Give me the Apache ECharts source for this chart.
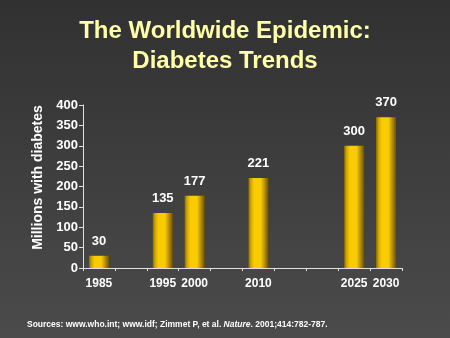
<!DOCTYPE html>
<html><head><meta charset="utf-8">
<script src="https://cdn.jsdelivr.net/npm/echarts@6/dist/echarts.min.js"></script>
<style>html,body{margin:0;padding:0;background:#3d3d3d}#c{width:450px;height:338px}</style>
</head><body><div id="c"></div>
<script>
var categories = ['1985', '', '1995', '2000', '', '2010', '', '', '2025', '2030'];
var values = [30, null, 135, 177, null, 221, null, null, 300, 370];
var yTicks = [0, 50, 100, 150, 200, 250, 300, 350, 400];
var titleLines = ['The Worldwide Epidemic:', 'Diabetes Trends'];
var yName = 'Millions with diabetes';

var chart = echarts.init(document.getElementById('c'), null, {renderer: 'canvas'});
var barGrad = new echarts.graphic.LinearGradient(0, 0, 1, 0, [
  {offset: 0, color: '#8a6a00'},
  {offset: 0.12, color: '#d0a600'},
  {offset: 0.28, color: '#f8cc00'},
  {offset: 0.62, color: '#f8cc00'},
  {offset: 0.8, color: '#b89000'},
  {offset: 1, color: '#6e5200'}
]);
chart.setOption({
  backgroundColor: new echarts.graphic.LinearGradient(0, 0, 0, 1, [
    {offset: 0, color: '#313131'},
    {offset: 1, color: '#4b4b4b'}
  ]),
  animation: false,
  title: [{
    text: titleLines.join('\n'),
    left: 'center',
    top: 11,
    textStyle: {color: '#ffffaa', fontFamily: 'Liberation Sans, Arial', fontWeight: 'bold', fontSize: 24, lineHeight: 30}
  }, {
    text: '{a|Sources: www.who.int; www.idf; Zimmet P, et al. }{b|Nature}{a|. 2001;414:782-787.}',
    left: 27,
    top: 320,
    padding: 0,
    textStyle: {
      rich: {
        a: {color: '#ffffff', fontFamily: 'Liberation Sans, Arial', fontWeight: 'bold', fontSize: 8.5},
        b: {color: '#ffffff', fontFamily: 'Liberation Sans, Arial', fontWeight: 'bold', fontStyle: 'italic', fontSize: 8.5}
      }
    }
  }],
  grid: {left: 83, right: 48, top: 105, bottom: 70, containLabel: false},
  xAxis: {
    type: 'category',
    data: categories,
    boundaryGap: true,
    axisLine: {lineStyle: {color: '#e0e0e0', width: 1}},
    axisTick: {show: true, length: 3, lineStyle: {color: '#e0e0e0'}, interval: 0},
    axisLabel: {color: '#ffffff', fontFamily: 'Liberation Sans, Arial', fontWeight: 'bold', fontSize: 12, margin: 10, interval: 0},
    splitLine: {show: false}
  },
  yAxis: {
    type: 'value',
    min: yTicks[0],
    max: yTicks[yTicks.length - 1],
    interval: 50,
    name: yName,
    nameLocation: 'middle',
    nameGap: 38,
    nameTextStyle: {color: '#ffffff', fontFamily: 'Liberation Sans, Arial', fontWeight: 'bold', fontSize: 14, padding: [0, 0, 0, 18]},
    axisLine: {show: true, lineStyle: {color: '#e0e0e0', width: 1}},
    axisTick: {show: true, length: 4, lineStyle: {color: '#e0e0e0'}},
    axisLabel: {color: '#ffffff', fontFamily: 'Liberation Sans, Arial', fontWeight: 'bold', fontSize: 13, margin: 5},
    splitLine: {show: false}
  },
  series: [{
    type: 'bar',
    data: values,
    barWidth: 20,
    itemStyle: {color: barGrad},
    label: {show: true, position: 'top', distance: 8, color: '#ffffff', fontFamily: 'Liberation Sans, Arial', fontWeight: 'bold', fontSize: 13}
  }]
});
</script></body></html>
